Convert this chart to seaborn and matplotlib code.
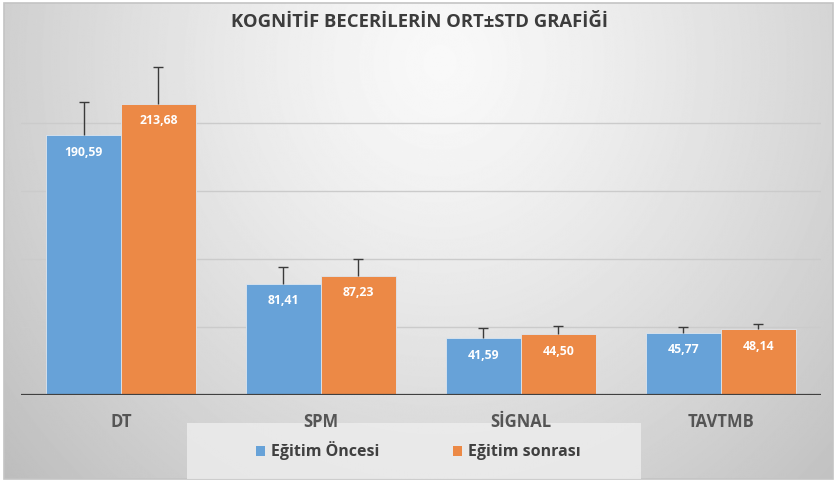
import numpy as np
import pandas as pd
import matplotlib
matplotlib.use("Agg")
import matplotlib.pyplot as plt
from matplotlib.patches import Rectangle, Patch
import seaborn as sns

categories = ["DT", "SPM", "SİGNAL", "TAVTMB"]
series = ["Eğitim Öncesi", "Eğitim sonrası"]
before_mean = [190.59, 81.41, 41.59, 45.77]
after_mean = [213.68, 87.23, 44.50, 48.14]
before_std = [24.5, 12.8, 7.8, 3.9]
after_std = [27.0, 12.4, 6.2, 4.0]
title = "KOGNİTİF BECERİLERİN ORT±STD GRAFİĞİ"

colors = ["#67A2D8", "#EC8946"]

sns.set_theme(style="white")
plt.rcParams["font.family"] = ["Open Sans", "DejaVu Sans"]

df = pd.DataFrame({
    "cat": categories * 2,
    "grp": [series[0]] * 4 + [series[1]] * 4,
    "val": before_mean + after_mean,
})

fig = plt.figure(figsize=(8.37, 4.82), dpi=100)
fig.patch.set_facecolor("white")

# background gradient
bg = fig.add_axes([0, 0, 1, 1], zorder=-10)
yy, xx = np.mgrid[0:482, 0:837]
r = np.sqrt(((xx - 440) / 520.0) ** 2 + ((yy - 60) / 560.0) ** 2)
img = np.clip(0.975 - 0.20 * r ** 1.3, 0, 1)
bg.imshow(img, cmap="gray", vmin=0, vmax=1, aspect="auto",
          extent=[4 / 837, 833 / 837, 3 / 482, 479 / 482], interpolation="bilinear")
bg.set_xlim(0, 1); bg.set_ylim(0, 1)
bg.axis("off")
bg.add_patch(Rectangle((4 / 837, 3 / 482), 829 / 837, 476 / 482, fill=False,
                       edgecolor="#c4c4c4", linewidth=1.2, transform=bg.transAxes))
# legend box
bg.add_patch(Rectangle((187 / 837, 1 - 479 / 482), 454 / 837, 56 / 482,
                       facecolor="#eeeeee", edgecolor="none", alpha=0.8,
                       transform=bg.transAxes))

ax = fig.add_axes([21 / 837, 1 - 395 / 482, 800 / 837, 340.5 / 482])
ax.patch.set_alpha(0)
sns.barplot(data=df, x="cat", y="val", hue="grp", palette=colors, errorbar=None,
            width=0.75, gap=0.0, ax=ax, edgecolor="#dde6ef", linewidth=0.6,
            saturation=1, legend=False, zorder=3)

ax.set_ylim(0, 250)
ax.set_xlim(-0.5, 3.5)
for g in [50, 100, 150, 200]:
    ax.axhline(g, color="#cbcbcb", linewidth=1.0, zorder=1)
ax.axhline(0, color="#404040", linewidth=1.6, zorder=5)

# error bars (upper only) and value labels from the bar patches
bars = sorted([p for p in ax.patches if p.get_height() > 0], key=lambda p: p.get_x())
vals_order = []
for i in range(len(categories)):
    vals_order.append((before_mean[i], before_std[i]))
    vals_order.append((after_mean[i], after_std[i]))
for p, (m, s) in zip(bars, vals_order):
    xc = p.get_x() + p.get_width() / 2
    eb = ax.errorbar(xc, m, yerr=[[0], [s]], fmt="none", ecolor="#3a3a3a",
                     elinewidth=1.0, capsize=3.5, capthick=1.0, zorder=4)
    caps = eb[1]
    if len(caps) == 2:
        caps[0].set_visible(False)
    ax.annotate(f"{m:.2f}".replace(".", ","), (xc, m), xytext=(0, -12),
                textcoords="offset points", ha="center", va="center",
                color="white", fontsize=8.8, fontweight="bold", zorder=6)

ax.set_xlabel("")
ax.set_ylabel("")
ax.set_yticks([])
ax.tick_params(axis="x", length=0, pad=13, labelsize=12, labelcolor="#555555")
for t in ax.get_xticklabels():
    t.set_fontweight("bold")
for sp in ax.spines.values():
    sp.set_visible(False)

fig.text(420 / 837, 1 - 22 / 482, title, ha="center", va="center",
         fontsize=13.3, fontweight="bold", color="#3c3c3c")

handles = [Patch(facecolor=c, edgecolor="none") for c in colors]
leg = fig.legend(handles, series, loc="center", bbox_to_anchor=(418 / 837, 1 - 451 / 482),
                 ncol=2, frameon=False, fontsize=11.5, handlelength=0.6,
                 handleheight=0.6, handletextpad=0.35, columnspacing=4.6)
for t in leg.get_texts():
    t.set_fontweight("bold")
    t.set_color("#404040")

fig.savefig("out.png", dpi=100)
